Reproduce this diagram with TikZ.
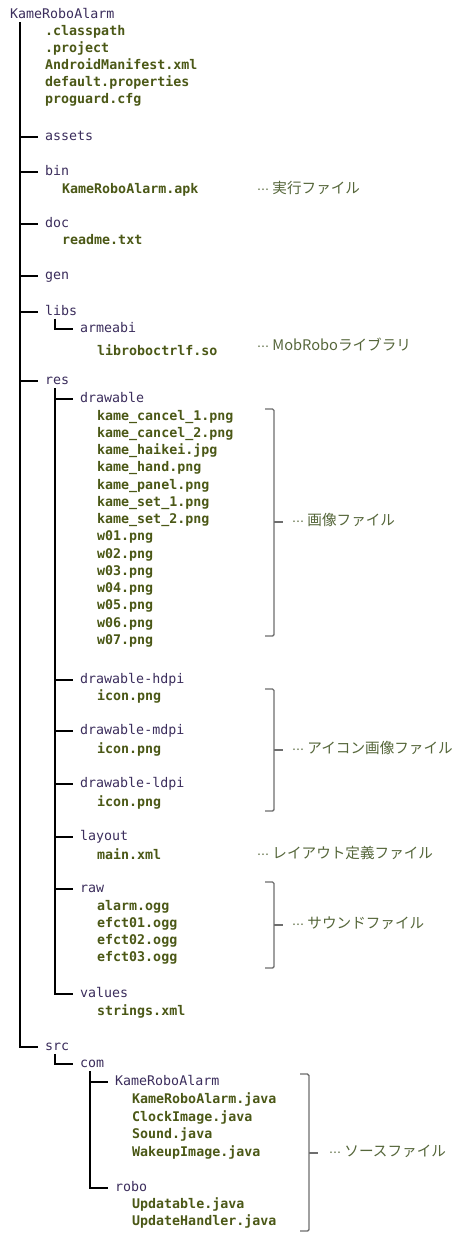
\documentclass[tikz,border=0pt]{standalone}
\usepackage{fontspec}
\setmonofont{DejaVu Sans Mono}
\newfontfamily\cjk{Noto Sans CJK JP}
\newfontfamily\djv{DejaVu Sans}
\newcommand{\dotsfw}{{\djv\fontsize{12}{14}\selectfont ⋯}}
\definecolor{foldercol}{HTML}{3B2D5C}
\definecolor{filecol}{HTML}{4B5816}
\definecolor{notecol}{HTML}{55663A}
\definecolor{brkcol}{HTML}{6E6E6E}
\tikzset{
  base/.style={anchor=west, inner sep=0pt, text height=9.5pt, text depth=2.5pt},
  folder/.style={base, font={\ttfamily\fontsize{13.3}{14}\selectfont}, text=foldercol},
  file/.style={base, font={\ttfamily\bfseries\fontsize{13.3}{14}\selectfont}, text=filecol},
  note/.style={base, font={\cjk\fontsize{14.6}{16}\selectfont}, text=notecol},
  tree/.style={line width=2pt, black},
  brk/.style={line width=1.4pt, brkcol, rounded corners=1.5pt},
}
\begin{document}
\begin{tikzpicture}[x=1pt,y=-1pt]
\useasboundingbox[fill=white] (0,0) rectangle (474,1240);
% root
\node[folder] (root) at (10,15) {KameRoboAlarm};
\node[file] (cp) at (45,32) {.classpath};
\node[file] (pj) at (45,49) {.project};
\node[file] (am) at (45,66) {AndroidManifest.xml};
\node[file] (dp) at (45,83) {default.properties};
\node[file] (pg) at (45,100) {proguard.cfg};
\node[folder] (assets) at (45,137) {assets};
\node[folder] (bin) at (45,172) {bin};
\node[file] (apk) at (62,190) {KameRoboAlarm.apk};
\node[note] (napk) at (257,190) {\dotsfw{} 実行ファイル};
\node[folder] (doc) at (45,224) {doc};
\node[file] (readme) at (62,241) {readme.txt};
\node[folder] (gen) at (45,276) {gen};
\node[folder] (libs) at (45,311.5) {libs};
\node[folder] (armeabi) at (80,329) {armeabi};
\node[file] (so) at (97,351.5) {libroboctrlf.so};
\node[note] (nso) at (257,347) {\dotsfw{} MobRoboライブラリ};
\node[folder] (res) at (45,381) {res};
\node[folder] (drawable) at (80,399.3) {drawable};
\foreach \n [count=\i from 0] in {kame\_cancel\_1.png,kame\_cancel\_2.png,kame\_haikei.jpg,kame\_hand.png,kame\_panel.png,kame\_set\_1.png,kame\_set\_2.png,w01.png,w02.png,w03.png,w04.png,w05.png,w06.png,w07.png}
  \node[file] (d\i) at (97,{416.7+\i*17.25}) {\n};
\node[note] (nimg) at (292,522) {\dotsfw{} 画像ファイル};
\node[folder] (hdpi) at (80,679.5) {drawable-hdpi};
\node[file] (ih) at (97,696.7) {icon.png};
\node[folder] (mdpi) at (80,731) {drawable-mdpi};
\node[file] (im) at (97,750) {icon.png};
\node[folder] (ldpi) at (80,784) {drawable-ldpi};
\node[file] (il) at (97,803) {icon.png};
\node[note] (nicon) at (292,750) {\dotsfw{} アイコン画像ファイル};
\node[folder] (layout) at (80,836.7) {layout};
\node[file] (mainxml) at (97,855.7) {main.xml};
\node[note] (nlay) at (257,855) {\dotsfw{} レイアウト定義ファイル};
\node[folder] (raw) at (80,889) {raw};
\node[file] (alarm) at (97,906.7) {alarm.ogg};
\node[file] (e1) at (97,924) {efct01.ogg};
\node[file] (e2) at (97,941) {efct02.ogg};
\node[file] (e3) at (97,958) {efct03.ogg};
\node[note] (nsnd) at (292,925) {\dotsfw{} サウンドファイル};
\node[folder] (values) at (80,993.5) {values};
\node[file] (strings) at (97,1012) {strings.xml};
\node[folder] (src) at (45,1046.7) {src};
\node[folder] (com) at (80,1064) {com};
\node[folder] (kra) at (115,1082) {KameRoboAlarm};
\node[file] (j1) at (132,1100) {KameRoboAlarm.java};
\node[file] (j2) at (132,1117.5) {ClockImage.java};
\node[file] (j3) at (132,1135) {Sound.java};
\node[file] (j4) at (132,1152.5) {WakeupImage.java};
\node[folder] (robo) at (115,1188) {robo};
\node[file] (j5) at (132,1204.5) {Updatable.java};
\node[file] (j6) at (132,1222) {UpdateHandler.java};
\node[note] (nsrc) at (329,1153) {\dotsfw{} ソースファイル};
% tree connectors
\foreach \c in {assets,bin,doc,gen,libs,res,src}
  \draw[tree] ([xshift=10pt,yshift=-1pt]root.south west) |- ([xshift=-7pt]\c.west);
\draw[tree] ([xshift=10pt,yshift=-1pt]libs.south west) |- ([xshift=-7pt]armeabi.west);
\foreach \c in {drawable,hdpi,mdpi,ldpi,layout,raw,values}
  \draw[tree] ([xshift=10pt,yshift=-1pt]res.south west) |- ([xshift=-7pt]\c.west);
\draw[tree] ([xshift=10pt,yshift=-1pt]src.south west) |- ([xshift=-7pt]com.west);
\foreach \c in {kra,robo}
  \draw[tree] ([xshift=10pt,yshift=-1pt]com.south west) |- ([xshift=-7pt]\c.west);
% brackets
\draw[brk] (265,409) -- (274,409) -- (274,636) -- (265,636);
\draw[brk] (274,522) -- ([xshift=-9pt]nimg.west);
\draw[brk] (265,689) -- (274,689) -- (274,811) -- (265,811);
\draw[brk] (274,750) -- ([xshift=-9pt]nicon.west);
\draw[brk] (265,882) -- (274,882) -- (274,968) -- (265,968);
\draw[brk] (274,925) -- ([xshift=-9pt]nsnd.west);
\draw[brk] (300,1074) -- (309,1074) -- (309,1231) -- (300,1231);
\draw[brk] (309,1153) -- ([xshift=-11pt]nsrc.west);
\end{tikzpicture}
\end{document}
